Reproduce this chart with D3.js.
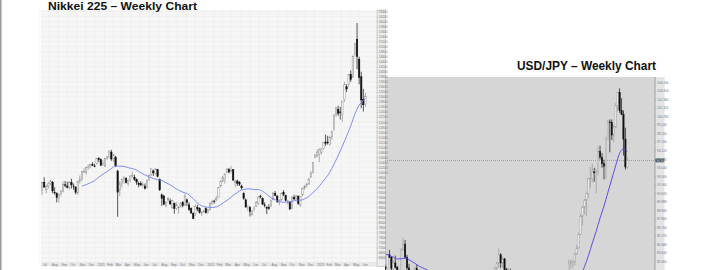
<!DOCTYPE html>
<html>
<head>
<meta charset="utf-8">
<script src="https://cdnjs.cloudflare.com/ajax/libs/d3/7.8.5/d3.min.js"></script>
<style>
html, body { margin: 0; padding: 0; background: #fff; overflow: hidden; }
</style>
</head>
<body>
<div id="chart"></div>
<script>
// Nikkei 225 weekly candles [open, high, low, close], week 0 = 5 Jul 2010
var nikkeiOHLC = [
  [9270,9600,9090,9585],[9600,9800,9380,9408],[9300,9500,9160,9431],[9450,9600,9350,9537],
  [9560,9700,9480,9642],[9600,9650,9160,9253],[9200,9400,9100,9180],[9150,9200,8800,8991],
  [8950,9150,8796,9114],[9150,9300,9050,9239],[9250,9630,9200,9509],[9500,9650,9400,9471],
  [9450,9620,9350,9404],[9380,9650,9300,9589],[9600,9740,9350,9500],[9450,9550,9300,9426],
  [9400,9450,9120,9202],[9180,9660,9100,9625],[9650,9870,9550,9725],[9700,10050,9650,10022],
  [10000,10160,9980,10039],[10000,10200,9900,10178],[10200,10300,10100,10212],[10250,10320,10150,10303],
  [10300,10400,10250,10279],[10250,10330,10200,10229],[10350,10550,10300,10541],[10550,10600,10400,10499],
  [10500,10550,10250,10274],[10300,10480,10250,10360],[10250,10560,10200,10543],[10550,10650,10500,10605],
  [10600,10860,10590,10842],[10800,10890,10450,10527],[10550,10730,10400,10694],[10600,10650,10200,10254],
  [10044,10100,8227,9206],[9300,9650,9050,9536],[9550,9750,9400,9708],[9700,9850,9550,9768],
  [9750,9800,9550,9591],[9550,9700,9450,9682],[9700,9870,9600,9849],[9850,10020,9800,9859],
  [9800,9900,9650,9716],[9700,9750,9500,9607],[9550,9620,9400,9504],[9550,9640,9450,9492],
  [9500,9600,9380,9514],[9450,9550,9310,9351],[9400,9690,9360,9678],[9700,9900,9650,9868],
  [9900,10140,9850,10137],[10050,10100,9850,9974],[9950,10140,9900,10132],[10100,10130,9800,9833],
  [9700,9750,9250,9299],[9100,9150,8660,8963],[9050,9100,8700,8719],[8650,8850,8620,8797],
  [8900,9000,8800,8950],[8850,8950,8700,8737],[8600,8900,8550,8864],[8750,8800,8350,8560],
  [8550,8800,8500,8700],[8600,8650,8350,8606],[8650,8800,8600,8747],[8800,8850,8600,8678],
  [8700,9150,8650,9050],[8900,8950,8650,8801],[8700,8800,8450,8514],[8550,8600,8350,8374],
  [8350,8400,8135,8160],[8350,8700,8250,8643],[8600,8700,8450,8536],[8550,8600,8350,8401],
  [8350,8450,8250,8395],[8420,8500,8390,8455],[8550,8600,8350,8390],[8400,8550,8350,8500],
  [8500,8800,8480,8766],[8750,8900,8700,8841],[8850,8900,8750,8831],[8900,9050,8850,8947],
  [9000,9400,8980,9384],[9450,9650,9400,9647],[9650,9850,9600,9777],[9700,9950,9550,9929],
  [10000,10150,9950,10129],[10100,10170,9950,10011],[10050,10255,9950,10083],[10100,10120,9650,9688],
  [9600,9700,9400,9637],[9650,9700,9450,9561],[9600,9650,9450,9520],[9450,9500,9300,9380],
  [9150,9200,8900,8953],[8900,8950,8600,8611],[8550,8700,8450,8580],[8600,8650,8238,8440],
  [8300,8500,8290,8459],[8550,8650,8450,8569],[8650,8850,8620,8798],[8750,9050,8700,9006],
  [9050,9100,8950,9020],[8950,9000,8700,8724],[8700,8800,8600,8669],[8600,8650,8330,8566],
  [8600,8720,8500,8555],[8650,8900,8620,8891],[8900,9220,8880,9162],[9150,9250,9050,9070],
  [9050,9080,8780,8839],[8800,8920,8680,8871],[8900,9200,8850,9159],[9200,9290,9050,9110],
  [9080,9100,8840,8870],[8800,8900,8700,8863],[8800,8850,8500,8534],[8550,9050,8530,9002],
  [9000,9100,8900,8933],[8950,9100,8850,9051],[9050,9060,8700,8757],[8700,9050,8620,9024],
  [9100,9380,9050,9366],[9380,9480,9300,9446],[9480,9560,9400,9527],[9530,9760,9500,9737],
  [9800,10050,9780,9940],[10000,10400,9950,10395],[10600,10700,10550,10688],[10650,10900,10600,10801],
  [10700,10950,10400,10913],[10800,10950,10700,10926],[10950,11200,10900,11191],[11200,11500,11050,11153],
  [11200,11450,11100,11173],[11100,11450,11050,11385],[11400,11650,11300,11606],[11700,12300,11650,12283],
  [12300,12600,12200,12560],[12500,12650,12250,12338],[12400,12600,12100,12397],[12300,12850,12000,12833],
  [12900,13600,12800,13485],[13400,13500,13200,13316],[13500,13900,13400,13884],[13900,14050,13600,13694],
  [13800,14650,13750,14607],[14700,15150,14600,15138],[15300,15942,14100,14612],[14500,14600,13500,13774],
  [13800,14000,12550,12877],[12900,13320,12415,12686],[12690,13150,12600,13010]
];

// blue moving average [week, value]
var nikkeiMA = [
  [19,9443],[21,9504],[23,9581],[25,9662],[27,9805],[29,9919],[31,10028],[33,10147],[35,10248],
  [37,10243],[39,10230],[41,10183],[43,10142],[45,10083],[47,9981],[49,9892],[51,9812],[53,9749],
  [55,9700],[57,9676],[59,9578],[61,9499],[63,9385],[65,9284],[67,9205],[69,9155],[71,9022],
  [73,8856],[75,8705],[77,8634],[79,8603],[81,8599],[83,8617],[85,8703],[87,8817],[89,8932],
  [91,9076],[93,9195],[95,9294],[97,9329],[99,9336],[101,9307],[103,9308],[105,9244],[107,9120],
  [109,8986],[111,8909],[113,8834],[115,8803],[117,8811],[119,8837],[121,8885],[123,8884],[125,8937],
  [127,9038],[129,9183],[131,9346],[133,9552],[135,9756],[137,9997],[139,10315],[141,10660],[143,11033],
  [145,11432],[147,11848],[149,12319],[151,12663],[153,12850],[154,12952]
];

var nikkeiMonths = ["Jul","Aug","Sep","Oct","Nov","Dec","2011","Feb","Mar","Apr","May","Jun",
  "Jul","Aug","Sep","Oct","Nov","Dec","2012","Feb","Mar","Apr","May","Jun",
  "Jul","Aug","Sep","Oct","Nov","Dec","2013","Feb","Mar","Apr","May","Jun"];

var nikkeiTicks = [6600,6800,7000,7200,7400,7600,7800,8000,8200,8400,8600,8800,9000,9200,9400,
  9600,9800,10000,10200,10400,10600,10800,11000,11200,11400,11600,11800,12000,12200,12400,12600,
  12800,13000,13200,13400,13600,13800,14000,14200,14400,14600,14800,15000,15200,15400,15600,15800,
  16000,16200,16400];

// USD/JPY weekly candles [open, high, low, close], week 0 = 31 Jan 2011
var usdOHLC = [
  [82.0,82.3,81.1,81.7],[81.7,83.5,81.6,83.4],[83.4,84.0,83.0,83.1],[83.1,83.2,81.5,81.7],
  [81.7,82.7,81.6,82.4],[82.4,83.3,81.7,81.9],[81.9,82.0,76.3,80.6],[80.6,81.6,80.3,81.5],
  [81.5,84.2,81.4,84.0],[84.0,85.5,83.9,84.7],[84.7,85.2,82.9,83.1],[83.1,83.4,81.5,81.8],
  [81.8,82.3,81.1,81.2],[81.2,81.3,79.6,80.6],[80.6,81.2,80.2,80.9],[80.9,82.0,80.6,81.7],
  [81.7,82.2,80.6,80.7],[80.7,81.4,80.2,80.3],[80.3,80.5,79.7,80.2],[80.2,80.9,80.0,80.0],
  [80.0,80.8,80.0,80.4],[80.4,81.1,80.2,80.8],[80.8,81.4,80.4,81.1],[81.1,81.2,78.5,79.1],
  [79.1,79.5,78.2,78.4],[78.4,78.6,76.7,76.7],[76.7,80.2,76.3,78.4],[78.4,78.5,76.5,76.8],
  [76.8,77.0,75.9,76.6],[76.6,77.8,76.3,76.7],[76.7,77.2,76.5,76.8],[76.8,77.9,76.6,77.6],
  [77.6,77.8,76.5,76.8],[76.8,76.9,76.1,76.4],[76.4,77.0,76.1,77.0],[77.0,77.0,76.3,76.7],
  [76.7,77.3,76.5,77.0],[77.0,77.1,75.8,76.2],[76.2,76.3,75.4,75.8],[75.8,79.5,75.6,78.2],
  [78.2,78.3,76.9,77.0],[77.0,77.2,76.6,76.9],[76.9,77.8,76.6,77.7],[77.7,78.2,77.6,77.9],
  [77.9,78.0,77.5,77.6],[77.6,78.2,77.5,77.8],[77.8,78.2,77.9,78.1],[78.1,78.2,76.9,76.9],
  [76.9,77.2,76.6,77.0],[77.0,77.1,76.6,76.8],[76.8,77.2,76.5,77.0],[77.0,78.3,76.7,76.7],
  [76.7,76.7,75.9,76.5],[76.5,77.8,76.3,77.6],[77.6,79.6,77.5,79.5],[79.5,81.2,79.4,81.1],
  [81.1,81.9,80.3,81.8],[81.8,82.5,80.7,82.4],[82.4,84.2,81.8,83.4],[83.4,83.6,81.8,82.4],
  [82.4,83.2,81.9,82.9],[82.9,83.0,81.5,81.6],[81.6,81.8,80.6,80.9],[80.9,81.8,80.3,81.5],
  [81.5,81.7,80.3,80.3],[80.3,80.4,79.7,79.8],[79.8,80.2,79.5,79.9],[79.9,80.0,79.0,79.1],
  [79.1,79.8,79.0,79.6],[79.6,79.7,77.7,78.0],[78.0,79.6,77.7,79.6],[79.6,79.7,78.7,78.7],
  [78.7,80.6,78.6,80.4],[80.4,80.6,79.3,79.8],[79.8,80.2,79.5,79.6],[79.6,79.8,78.8,78.9],
  [78.9,79.2,78.3,78.5],[78.5,78.6,77.9,78.4],[78.4,78.6,78.1,78.3],[78.3,78.8,78.1,78.3],
  [78.3,79.6,78.2,79.5],[79.5,79.6,78.5,78.7],[78.7,78.8,78.2,78.3],[78.3,78.8,78.1,78.3],
  [78.3,78.4,77.1,78.4],[78.4,79.2,77.9,78.2],[78.2,78.3,77.4,77.9],[77.9,78.7,77.6,78.7],
  [78.7,78.9,78.0,78.4],[78.4,79.4,78.3,79.3],[79.3,80.4,79.3,79.9],[79.9,80.7,79.6,80.4],
  [80.4,80.6,79.1,79.5],[79.5,81.4,79.4,81.3],[81.3,82.8,81.2,82.4],[82.4,82.8,81.7,82.5],
  [82.5,82.8,81.8,82.5],[82.5,83.6,82.1,83.5],[83.5,84.6,83.4,84.2],[84.2,86.1,84.2,85.9],
  [85.9,88.4,85.8,88.1],[88.1,89.3,87.0,89.2],[89.2,90.2,88.3,90.1],[90.1,91.0,88.1,90.9],
  [90.9,92.8,90.3,92.7],[92.7,94.1,91.6,92.7],[92.7,94.5,92.2,93.5],[93.5,94.0,92.3,93.4],
  [93.4,93.9,90.9,93.6],[93.6,96.6,93.1,96.0],[96.0,96.7,95.0,95.3],[95.3,95.8,94.0,94.5],
  [94.5,95.0,92.6,94.2],[94.2,97.8,92.6,97.5],[97.5,99.9,97.5,99.6],[99.6,99.9,95.9,99.5],
  [99.5,99.9,97.4,98.0],[98.0,99.2,97.1,99.0],[99.0,101.9,98.9,101.6],[101.6,103.3,100.9,103.2],
  [103.2,103.7,100.7,101.0],[101.0,102.5,100.5,100.5],[100.5,101.0,95.5,97.5],[97.5,98.9,93.8,94.1],
  [94.1,95.3,93.9,94.9]
];

var usdMA = [
  [0,83.5],[2,83.3],[4,83.1],[6,82.9],[8,82.9],[10,83.0],[12,82.8],[14,82.5],[16,82.2],[18,81.9],
  [20,81.71],[22,81.48],[24,81.15],[26,80.78],[28,80.18],[30,79.46],[32,79.03],[34,78.63],[36,78.19],
  [38,77.77],[40,77.51],[42,77.14],[44,77.04],[46,77.08],[48,77.11],[50,77.12],[52,77.06],[54,77.25],
  [56,77.71],[58,78.40],[60,78.90],[62,79.30],[64,79.61],[66,79.80],[68,80.04],[70,80.23],[72,80.53],
  [74,80.64],[76,80.37],[78,79.91],[80,79.54],[82,79.26],[84,79.01],[86,78.83],[88,78.75],[90,78.83],
  [92,78.87],[94,79.08],[96,79.46],[98,80.01],[100,80.82],[102,81.94],[104,83.28],[106,84.79],
  [108,86.28],[110,87.89],[112,89.33],[114,91.00],[116,92.62],[118,94.27],[120,95.78],[122,96.3],[124,96.0]
];

var usdTicks = [104.44,103.40,102.36,101.32,100.28,99.24,98.20,97.16,96.12,95.08,94.04,93.00,91.96,
  90.92,89.88,88.84,87.80,86.76,85.72,84.68,83.64,82.60];

var usdLast = 94.9;

var width = 710, height = 270;
var svg = d3.select("#chart").append("svg")
  .attr("width", width)
  .attr("height", height)
  .style("font-family", "'Liberation Sans', Arial, sans-serif");

// left edge line of the slide
svg.append("rect").attr("x", 0).attr("y", 0).attr("width", 1.5).attr("height", height).attr("fill", "#9a9a9a");

// candle drawing helper
function drawCandles(g, data, x, y, bodyW, upStroke) {
  var c = g.selectAll(".candle").data(data).enter().append("g").attr("class", "candle");
  c.append("line")
    .attr("x1", function(d, i) { return x(i + 0.5); })
    .attr("x2", function(d, i) { return x(i + 0.5); })
    .attr("y1", function(d) { return y(d[1]); })
    .attr("y2", function(d) { return y(d[2]); })
    .attr("stroke", function(d) { return d[3] >= d[0] ? upStroke : "#111"; })
    .attr("stroke-width", 0.7);
  c.append("rect")
    .attr("x", function(d, i) { return x(i + 0.5) - bodyW / 2; })
    .attr("y", function(d) { return y(Math.max(d[0], d[3])); })
    .attr("width", bodyW)
    .attr("height", function(d) { return Math.max(0.6, Math.abs(y(d[0]) - y(d[3]))); })
    .attr("fill", function(d) { return d[3] >= d[0] ? "#fff" : "#111"; })
    .attr("stroke", function(d) { return d[3] >= d[0] ? upStroke : "#111"; })
    .attr("stroke-width", 0.5);
}

// ---------------- USD/JPY (behind) ----------------
var uL = 385, uR = 655, uT = 77, uB = 270;
var xU = d3.scaleLinear().domain([0, 139]).range([384.6, 655.65]);
var yU = d3.scaleLinear().domain([81.54, 105.08]).range([uB, uT]);

svg.append("rect").attr("x", uL).attr("y", uT).attr("width", uR - uL).attr("height", uB - uT + 10)
  .attr("fill", "#d6d6d6");

svg.append("clipPath").attr("id", "clipU").append("rect")
  .attr("x", uL).attr("y", uT).attr("width", uR - uL).attr("height", uB - uT + 10);

var gU = svg.append("g").attr("clip-path", "url(#clipU)");

// current price dotted line
gU.append("line")
  .attr("x1", uL).attr("x2", uR)
  .attr("y1", yU(usdLast)).attr("y2", yU(usdLast))
  .attr("stroke", "#777").attr("stroke-width", 0.6).attr("stroke-dasharray", "1,1");

drawCandles(gU, usdOHLC, xU, yU, 1.3, "#999");

gU.append("path")
  .datum(usdMA)
  .attr("fill", "none")
  .attr("stroke", "#4b3fe6")
  .attr("stroke-width", 0.9)
  .attr("d", d3.line()
    .x(function(d) { return xU(d[0] + 0.5); })
    .y(function(d) { return yU(d[1]); })
    .curve(d3.curveMonotoneX));

// right price axis
svg.append("rect").attr("x", uR).attr("y", uT).attr("width", 9.5).attr("height", uB - uT + 10)
  .attr("fill", "#e4e4e4");
svg.append("line").attr("x1", uR).attr("x2", uR).attr("y1", uT).attr("y2", uB + 10)
  .attr("stroke", "#777").attr("stroke-width", 0.6);

var axU = svg.append("g").attr("transform", "translate(" + uR + ",0)")
  .call(d3.axisRight(yU).tickValues(usdTicks).tickSize(1.2).tickPadding(0.8)
    .tickFormat(function(d) { return d.toFixed(3); }));
axU.select(".domain").remove();
axU.selectAll("line").attr("stroke", "#888").attr("stroke-width", 0.4);
axU.selectAll("text").attr("font-size", "3.2px").attr("fill", "#777").attr("font-family", "'Liberation Sans', Arial");

svg.append("rect").attr("x", uR + 0.5).attr("y", yU(usdLast) - 1.8).attr("width", 9).attr("height", 3.6)
  .attr("fill", "#333");
svg.append("text").attr("x", uR + 1.2).attr("y", yU(usdLast) + 1.1)
  .attr("font-size", "3.2px").attr("fill", "#fff").text(usdLast.toFixed(3));

svg.append("text")
  .attr("x", 517).attr("y", 69.5)
  .attr("font-size", "12px").attr("font-weight", "bold").attr("fill", "#111")
  .attr("textLength", 139).attr("lengthAdjust", "spacingAndGlyphs")
  .text("USD/JPY \u2013 Weekly Chart");

// ---------------- Nikkei 225 (front) ----------------
var nL = 41, nR = 377, nT = 10, nB = 262;
var xN = d3.scaleLinear().domain([0, 160]).range([nL, nR]);
var yN = d3.scaleLinear().domain([6424, 16460]).range([nB, nT]);

var weekZero = new Date(2010, 6, 5);
var months = d3.timeMonth.range(new Date(2010, 6, 1), new Date(2013, 6, 1));
function weekOf(date) { return (date - weekZero) / (7 * 864e5); }

svg.append("rect").attr("x", nL).attr("y", nT).attr("width", nR - nL).attr("height", nB - nT)
  .attr("fill", "#f6f6f6");

var gN = svg.append("g");

// grid
gN.selectAll(".hgrid").data(nikkeiTicks).enter().append("line")
  .attr("x1", nL).attr("x2", nR)
  .attr("y1", function(d) { return yN(d); }).attr("y2", function(d) { return yN(d); })
  .attr("stroke", "#ebebeb").attr("stroke-width", 0.5);
gN.selectAll(".vgrid").data(months).enter().append("line")
  .attr("x1", function(d) { return xN(weekOf(d)); }).attr("x2", function(d) { return xN(weekOf(d)); })
  .attr("y1", nT).attr("y2", nB)
  .attr("stroke", "#ebebeb").attr("stroke-width", 0.5);

drawCandles(gN, nikkeiOHLC, xN, yN, 1.4, "#8c8c8c");

gN.append("path")
  .datum(nikkeiMA)
  .attr("fill", "none")
  .attr("stroke", "#7380f4")
  .attr("stroke-width", 0.9)
  .attr("d", d3.line()
    .x(function(d) { return xN(d[0] + 0.5); })
    .y(function(d) { return yN(d[1]); })
    .curve(d3.curveMonotoneX));

// date strip
svg.append("rect").attr("x", nL).attr("y", nB).attr("width", nR - nL).attr("height", 4.5)
  .attr("fill", "#e8e8e8");
svg.selectAll(".mlab").data(months).enter().append("text")
  .attr("x", function(d) { return xN(weekOf(d)) + 3; })
  .attr("y", nB + 3.6)
  .attr("font-size", "3.2px").attr("fill", "#777")
  .text(function(d, i) { return nikkeiMonths[i]; });

// price axis column
svg.append("rect").attr("x", nR).attr("y", nT).attr("width", 8.5).attr("height", nB - nT + 4.5)
  .attr("fill", "#ececec").attr("stroke", "#aaa").attr("stroke-width", 0.5);

var axN = svg.append("g").attr("transform", "translate(" + nR + ",0)")
  .call(d3.axisRight(yN).tickValues(nikkeiTicks).tickSize(1).tickPadding(0.8));
axN.select(".domain").remove();
axN.selectAll("line").attr("stroke", "#888").attr("stroke-width", 0.4);
axN.selectAll("text").attr("font-size", "3.2px").attr("fill", "#777").attr("font-family", "'Liberation Sans', Arial")
  .text(function(d) { return d; });

svg.append("text")
  .attr("x", 48).attr("y", 9.5)
  .attr("font-size", "11px").attr("font-weight", "bold").attr("fill", "#111")
  .attr("textLength", 149).attr("lengthAdjust", "spacingAndGlyphs")
  .text("Nikkei 225 \u2013 Weekly Chart");
</script>
</body>
</html>
